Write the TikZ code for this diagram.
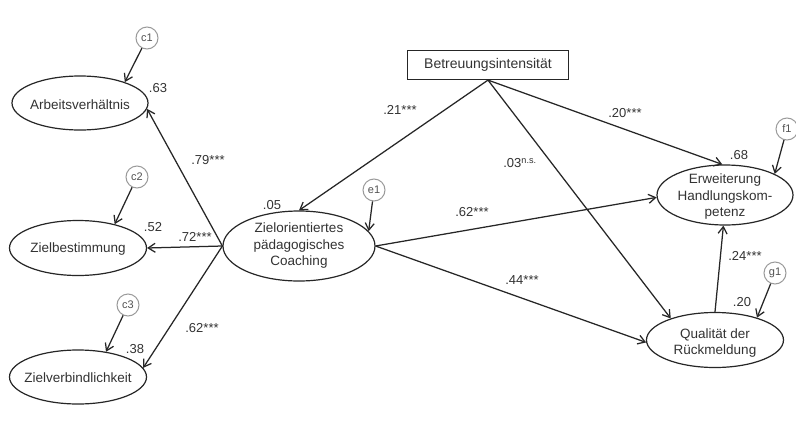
\documentclass[tikz,border=0pt]{standalone}
\usepackage{fontspec}
\setmainfont{Liberation Sans}
\usetikzlibrary{arrows.meta,shapes.geometric}
\definecolor{ln}{HTML}{262626}
\definecolor{tx}{HTML}{333333}
\definecolor{cg}{HTML}{9A9A9A}
\begin{document}
\begin{tikzpicture}[x=1pt,y=-1pt,
  ell/.style={draw=ln, line width=1.2pt, ellipse, inner sep=0pt},
  txt/.style={text=tx, font=\fontsize{13.5}{16.5}\selectfont, align=center, inner sep=0pt},
  err/.style={draw=cg, circle, line width=1pt, minimum size=22pt, inner sep=0pt, text=tx!85, font=\fontsize{11}{13}\selectfont},
  coef/.style={text=tx, font=\fontsize{13}{14}\selectfont, inner sep=0pt},
  arr/.style={draw=ln, line width=1.25pt, -{Straight Barb[length=7pt,width=9pt]}}]
\fill[white] (0,0) rectangle (796,437);
\useasboundingbox (0,0) rectangle (796,437);

% latent / observed variables
\node[ell, minimum width=136pt, minimum height=54pt] (arb) at (80,103) {};
\node[txt] (arbt) at (80,105) {Arbeitsverhältnis};
\node[ell, minimum width=137pt, minimum height=55pt] (zb) at (78,248) {};
\node[txt] (zbt) at (78,249) {Zielbestimmung};
\node[ell, minimum width=137pt, minimum height=54pt] (zv) at (78,377) {};
\node[txt] (zvt) at (78,378) {Zielverbindlichkeit};
\node[ell, minimum width=152pt, minimum height=70pt] (co) at (299,246) {};
\node[txt] (cot) at (299,246) {Zielorientiertes\\pädagogisches\\Coaching};
\node[draw=ln, line width=1.2pt, minimum width=161pt, minimum height=29pt, inner sep=0pt] (bet) at (488,65) {};
\node[txt, font=\fontsize{14}{16}\selectfont] (bett) at (488,65) {Betreuungsintensität};
\node[ell, minimum width=136pt, minimum height=60pt] (erw) at (725,195) {};
\node[txt] (erwt) at (725,197) {Erweiterung\\Handlungskom-\\petenz};
\node[ell, minimum width=137pt, minimum height=55pt] (q) at (715,340) {};
\node[txt] (qt) at (715,343) {Qualität der\\Rückmeldung};

% error terms
\node[err] (c1) at (147,38) {c1};
\node[err] (c2) at (137,177) {c2};
\node[err] (c3) at (128,305) {c3};
\node[err] (e1) at (374,190) {e1};
\node[err] (f1) at (787,129) {f1};
\node[err] (g1) at (775,273) {g1};

% arrows
\draw[arr] (c1) -- (arb.25);
\draw[arr] (c2) -- (zb.33);
\draw[arr] (c3) -- (zv.42);
\draw[arr] (e1) -- (co.12);
\draw[arr] (f1) -- (erw.23);
\draw[arr] (g1) -- (q.28);
\draw[arr] (co.west) -- (arb.-5);
\draw[arr] (co.west) -- (zb.east);
\draw[arr] (co.west) -- (zv.8);
\draw[arr] (bet.south) -- (co.north);
\draw[arr] (bet.south) -- (erw.95);
\draw[arr] (bet.south) -- (q.154);
\draw[arr] (co.east) -- (erw.182);
\draw[arr] (co.east) -- (q.182);
\draw[arr] (q.north) -- (erw.-93);

% coefficients
\node[coef] (l63) at (158,88) {.63};
\node[coef] (l52) at (153,227) {.52};
\node[coef] (l38) at (135,349) {.38};
\node[coef] (l05) at (272,205) {.05};
\node[coef] (l68) at (739,155) {.68};
\node[coef] (l20) at (742,302) {.20};
\node[coef] (p79) at (208,160) {.79***};
\node[coef] (p72) at (195,237) {.72***};
\node[coef] (p62a) at (202,328) {.62***};
\node[coef] (p21) at (400,110) {.21***};
\node[coef] (p03) at (520,163) {.03\textsuperscript{n.s.}};
\node[coef] (p20) at (625,113) {.20***};
\node[coef] (p62b) at (472,212) {.62***};
\node[coef] (p44) at (522,280) {.44***};
\node[coef] (p24) at (745,256) {.24***};
\end{tikzpicture}
\end{document}
